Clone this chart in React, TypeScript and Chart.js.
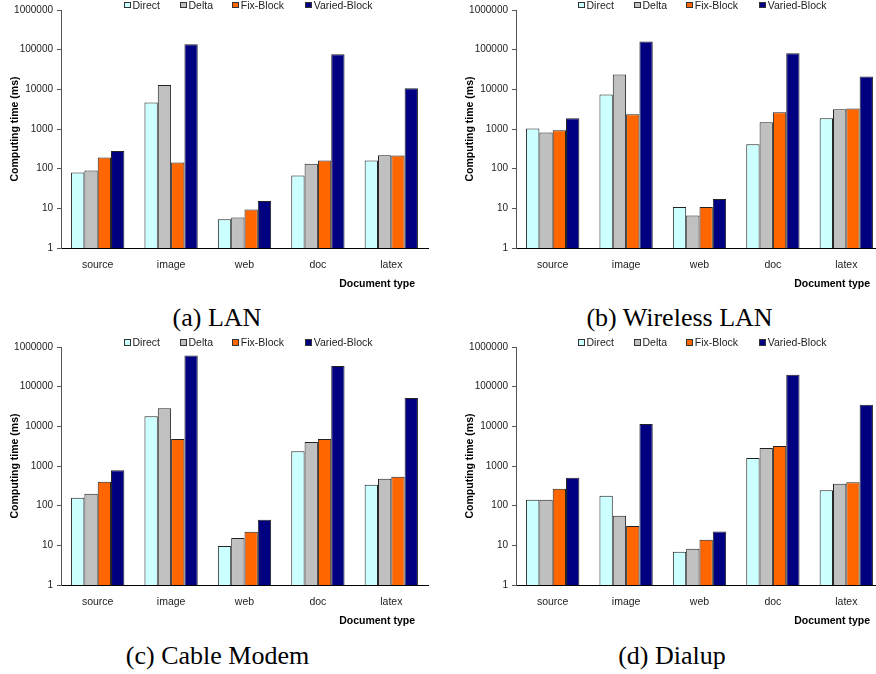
import React, { useEffect, useRef } from "react";
import { Chart, registerables } from "chart.js";

Chart.register(...registerables);

const categories = ["source", "image", "web", "doc", "latex"];
const seriesNames = ["Direct", "Delta", "Fix-Block", "Varied-Block"];
const seriesColors = ["#CCFFFF", "#C0C0C0", "#FF6600", "#000080"];
const yTickValues = [1, 10, 100, 1000, 10000, 100000, 1000000];

// (a) LAN
const lanDirect = [80, 4640, 5.3, 67, 161];
const lanDelta = [90, 12900, 5.9, 133, 219];
const lanFixBlock = [192, 143, 9.4, 161, 215];
const lanVariedBlock = [277, 136000, 15.2, 76500, 10600];

// (b) Wireless LAN
const wlanDirect = [1030, 7370, 10.8, 414, 1870];
const wlanDelta = [817, 23500, 6.6, 1480, 3150];
const wlanFixBlock = [933, 2360, 10.8, 2650, 3270];
const wlanVariedBlock = [1870, 160000, 17.1, 81000, 21000];

// (c) Cable Modem
const cableDirect = [158, 17900, 9.6, 2360, 335];
const cableDelta = [199, 28500, 15.2, 4050, 474];
const cableFixBlock = [400, 4820, 22, 4820, 533];
const cableVariedBlock = [784, 614000, 44, 331000, 51900];

// (d) Dialup
const dialDirect = [140, 177, 6.9, 1600, 246];
const dialDelta = [140, 56, 8.2, 2860, 355];
const dialFixBlock = [266, 30.5, 13.8, 3210, 391];
const dialVariedBlock = [502, 11500, 22.4, 200000, 35200];

const W = 438;
const H = 300;
const SANS = "'Liberation Sans', Arial, Helvetica, sans-serif";
const SERIF = "'Liberation Serif', 'Times New Roman', Times, serif";

const titlesPlugin = {
  id: "axisTitles",
  afterDraw(chart: any) {
    const { ctx, chartArea } = chart;
    ctx.save();
    ctx.fillStyle = "#000";
    ctx.font = `bold 10.5px ${SANS}`;
    ctx.textAlign = "right";
    ctx.textBaseline = "middle";
    ctx.fillText("Document type", chartArea.right - 13, chartArea.bottom + 36.5);
    ctx.translate(15, (chartArea.top + chartArea.bottom) / 2);
    ctx.rotate(-Math.PI / 2);
    ctx.textAlign = "center";
    ctx.fillText("Computing time (ms)", 0, 0);
    ctx.restore();
  },
};

type PanelProps = {
  x: number;
  y: number;
  series: number[][];
};

function Panel({ x, y, series }: PanelProps) {
  const ref = useRef<HTMLCanvasElement | null>(null);
  useEffect(() => {
    if (!ref.current) return;
    const chart = new Chart(ref.current, {
      type: "bar",
      data: {
        labels: categories,
        datasets: seriesNames.map((name, i) => ({
          label: name,
          data: series[i],
          backgroundColor: seriesColors[i],
          borderColor: "#222",
          borderWidth: 1,
          categoryPercentage: 0.726,
          barPercentage: 1,
        })),
      },
      options: {
        responsive: false,
        animation: false,
        devicePixelRatio: 1,
        layout: { padding: { top: 10, right: 10, left: 0, bottom: 0 } },
        plugins: {
          legend: { display: false },
          tooltip: { enabled: false },
        },
        scales: {
          x: {
            type: "category",
            grid: { display: false, drawTicks: false },
            border: { display: true, color: "#000", width: 1 },
            ticks: {
              color: "#222",
              padding: 11,
              font: { family: SANS, size: 10.5 },
              maxRotation: 0,
            },
            afterFit: (scale: any) => {
              scale.height = 52;
            },
          },
          y: {
            type: "logarithmic",
            min: 1,
            max: 1000000,
            grid: {
              display: true,
              drawOnChartArea: false,
              drawTicks: true,
              tickLength: 4,
              tickColor: "#555",
            },
            border: { display: true, color: "#555", width: 1 },
            afterBuildTicks: (scale: any) => {
              scale.ticks = yTickValues.map((v) => ({ value: v }));
            },
            ticks: {
              color: "#222",
              padding: 4,
              font: { family: SANS, size: 10 },
              callback: (v: any) => String(v),
            },
            afterFit: (scale: any) => {
              scale.width = 61;
            },
          },
        },
      },
      plugins: [titlesPlugin],
    } as any);
    return () => chart.destroy();
  }, []);
  return (
    <canvas
      ref={ref}
      width={W}
      height={H}
      style={{ position: "absolute", left: x, top: y, width: W, height: H }}
    />
  );
}

const legendBoxX = [124, 180, 232.3, 305.3];

function Legend({ x, y }: { x: number; y: number }) {
  return (
    <>
      {seriesNames.map((name, i) => (
        <React.Fragment key={name}>
          <div
            style={{
              position: "absolute",
              left: x + legendBoxX[i],
              top: y + 1.7,
              width: 4.5,
              height: 4.5,
              background: seriesColors[i],
              border: "1px solid #333",
            }}
          />
          <div
            style={{
              position: "absolute",
              left: x + legendBoxX[i] + 8.5,
              top: y - 1.3,
              font: `10.5px ${SANS}`,
              lineHeight: "12px",
              color: "#222",
              whiteSpace: "nowrap",
            }}
          >
            {name}
          </div>
        </React.Fragment>
      ))}
    </>
  );
}

function Caption({ text, cx, cy }: { text: string; cx: number; cy: number }) {
  return (
    <div
      style={{
        position: "absolute",
        left: cx - 150,
        top: cy - 15,
        width: 300,
        textAlign: "center",
        font: `26px ${SERIF}`,
        lineHeight: "30px",
        color: "#000",
        whiteSpace: "nowrap",
      }}
    >
      {text}
    </div>
  );
}

export default function App() {
  return (
    <div
      style={{
        position: "absolute",
        left: 0,
        top: 0,
        width: 876,
        height: 674,
        overflow: "hidden",
        background: "#fff",
      }}
    >
      <Panel x={0} y={0} series={[lanDirect, lanDelta, lanFixBlock, lanVariedBlock]} />
      <Panel x={455} y={0} series={[wlanDirect, wlanDelta, wlanFixBlock, wlanVariedBlock]} />
      <Panel x={0} y={337} series={[cableDirect, cableDelta, cableFixBlock, cableVariedBlock]} />
      <Panel x={455} y={337} series={[dialDirect, dialDelta, dialFixBlock, dialVariedBlock]} />
      <Legend x={0} y={0} />
      <Legend x={454} y={0} />
      <Legend x={0} y={337.5} />
      <Legend x={454} y={337.5} />
      <Caption text="(a) LAN" cx={217} cy={318} />
      <Caption text="(b) Wireless LAN" cx={679.5} cy={318} />
      <Caption text="(c) Cable Modem" cx={217.5} cy={656} />
      <Caption text="(d) Dialup" cx={672} cy={656} />
    </div>
  );
}
